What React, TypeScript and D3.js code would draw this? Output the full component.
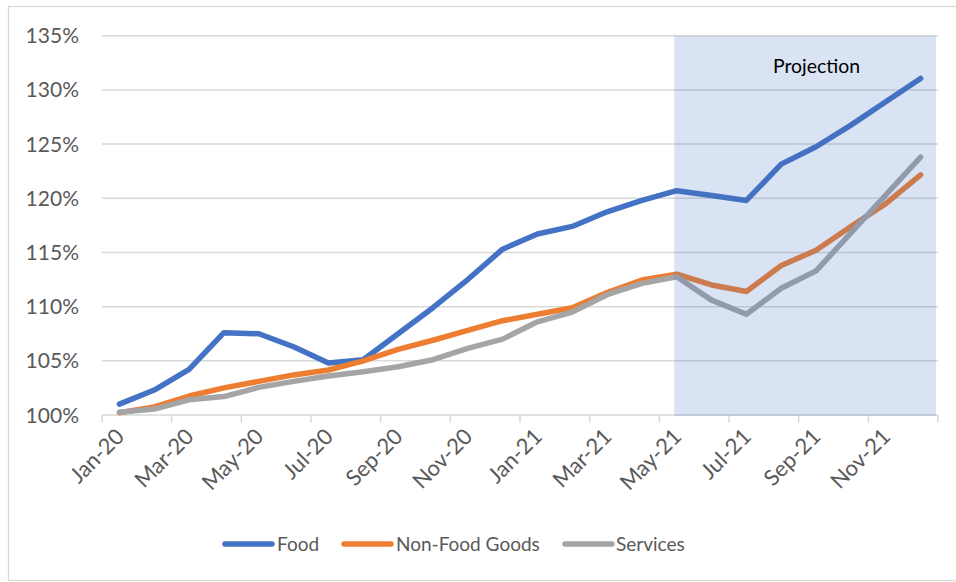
import React from "react";
import * as d3 from "d3";

// Monthly index levels (Jan-20 = start), last eight months are projections
const months = [
  "Jan-20", "Feb-20", "Mar-20", "Apr-20", "May-20", "Jun-20",
  "Jul-20", "Aug-20", "Sep-20", "Oct-20", "Nov-20", "Dec-20",
  "Jan-21", "Feb-21", "Mar-21", "Apr-21", "May-21", "Jun-21",
  "Jul-21", "Aug-21", "Sep-21", "Oct-21", "Nov-21", "Dec-21",
];

const food = [
  101.0, 102.3, 104.2, 107.6, 107.5, 106.3, 104.8, 105.1, 107.5, 109.9, 112.5, 115.3,
  116.7, 117.4, 118.75, 119.8, 120.7, 120.25, 119.8, 123.15, 124.75, 126.75, 128.9, 131.05,
];

const nonFoodGoods = [
  100.2, 100.75, 101.75, 102.5, 103.1, 103.7, 104.15, 105.0, 106.05, 106.9, 107.8, 108.7,
  109.3, 109.9, 111.3, 112.45, 113.0, 112.0, 111.4, 113.8, 115.2, 117.4, 119.5, 122.15,
];

const services = [
  100.25, 100.55, 101.4, 101.7, 102.55, 103.1, 103.6, 104.0, 104.45, 105.1, 106.15, 107.0,
  108.6, 109.5, 111.1, 112.15, 112.75, 110.6, 109.3, 111.7, 113.3, 116.8, 120.3, 123.8,
];

const yTicks = [100, 105, 110, 115, 120, 125, 130, 135];
const projectionStart = "May-21";

const seriesNames = ["Food", "Non-Food Goods", "Services"];
const seriesColors = ["#4472C4", "#ED7D31", "#A5A5A5"];
const seriesValues = [food, nonFoodGoods, services];

const W = 956;
const H = 582;
const FONT = "Lato, 'Open Sans', sans-serif";

export default function App() {
  const x = d3.scaleBand<string>().domain(months).range([102, 938]).padding(0);
  const y = d3.scaleLinear().domain([100, 135]).range([415, 35.7]);
  const cx = (m: string) => (x(m) as number) + x.bandwidth() / 2;

  const line = d3
    .line<number>()
    .x((_, i) => cx(months[i]))
    .y((d) => y(d));

  const [x0, x1] = x.range();
  const tickPositions = months
    .filter((_, i) => i % 2 === 0)
    .map((m) => x(m) as number)
    .concat([x1]);

  const shadeX = cx(projectionStart) - 2.5;

  // legend layout
  const legendY = 544;
  const legendItems = [
    { x: 225, tx: 277 },
    { x: 344, tx: 396 },
    { x: 565, tx: 616 },
  ];

  return (
    <svg
      width={W}
      height={H}
      style={{ position: "absolute", left: 0, top: 0, background: "#fff" }}
      fontFamily={FONT}
    >
      <rect x={8.5} y={6.5} width={W + 10} height={574} fill="#fff" stroke="#D9D9D9" strokeWidth={1.3} />

      {/* horizontal gridlines */}
      {yTicks.map((t) => (
        <line key={t} x1={x0} x2={x1} y1={y(t)} y2={y(t)} stroke="#D9D9D9" strokeWidth={1.5} />
      ))}

      {/* y tick labels */}
      {yTicks.map((t) => (
        <text
          key={"yl" + t}
          x={79}
          y={y(t)}
          dy="0.36em"
          textAnchor="end"
          fontSize={21}
          fill="#595959"
        >
          {t}%
        </text>
      ))}

      {/* x axis ticks */}
      {tickPositions.map((p, i) => (
        <line key={"xt" + i} x1={p} x2={p} y1={y(100)} y2={y(100) + 7.5} stroke="#D9D9D9" strokeWidth={1.5} />
      ))}

      {/* x tick labels */}
      {months
        .filter((_, i) => i % 2 === 0)
        .map((m) => (
          <text
            key={"xl" + m}
            transform={`translate(${cx(m) + 6},${y(100) + 23}) rotate(-45)`}
            textAnchor="end"
            fontSize={22}
            fill="#595959"
          >
            {m}
          </text>
        ))}

      {/* series lines */}
      {seriesValues.map((vals, s) => (
        <path
          key={seriesNames[s]}
          d={line(vals) as string}
          fill="none"
          stroke={seriesColors[s]}
          strokeWidth={5.5}
          strokeLinejoin="round"
          strokeLinecap="round"
        />
      ))}

      {/* projection period overlay */}
      <rect
        x={shadeX}
        y={y(135)}
        width={x1 - 2 - shadeX}
        height={y(100) + 1 - y(135)}
        fill="#4472C4"
        fillOpacity={0.2}
      />
      <text x={773} y={73} fontSize={19.4} fill="#000">
        Projection
      </text>

      {/* legend */}
      {legendItems.map((it, s) => (
        <g key={"lg" + s}>
          <line
            x1={it.x}
            x2={it.x + 47}
            y1={legendY}
            y2={legendY}
            stroke={seriesColors[s]}
            strokeWidth={5.5}
            strokeLinecap="round"
          />
          <text x={it.tx} y={legendY} dy="0.36em" fontSize={19} fill="#595959">
            {seriesNames[s]}
          </text>
        </g>
      ))}
    </svg>
  );
}
